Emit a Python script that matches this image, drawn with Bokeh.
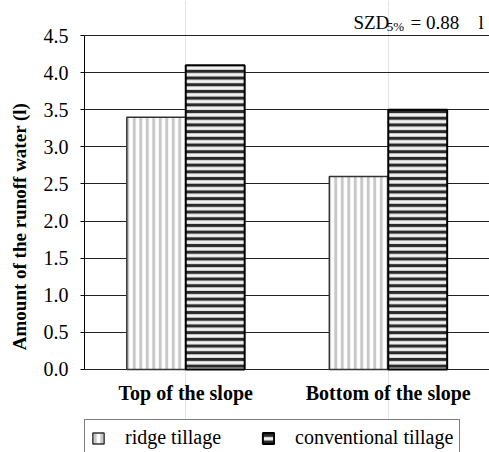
from bokeh.plotting import figure
from bokeh.models import Range1d, Legend, LegendItem, Label, FixedTicker, PrintfTickFormatter
from bokeh.models import ColumnDataSource
from bokeh.transform import dodge
from bokeh.embed import file_html
from bokeh.resources import INLINE

categories = ["Top of the slope", "Bottom of the slope"]
ridge_tillage = [3.4, 2.6]
conventional_tillage = [4.1, 3.5]
y_ticks = [0.0, 0.5, 1.0, 1.5, 2.0, 2.5, 3.0, 3.5, 4.0, 4.5]
series_names = ["ridge tillage", "conventional tillage"]
lsd_text = ["SZD", "5%", "= 0.88", "l"]

FONT = "'Liberation Serif'"

src = ColumnDataSource(dict(cat=categories, ridge=ridge_tillage, conv=conventional_tillage))

p = figure(x_range=categories, y_range=Range1d(-1.119, 4.972), width=489, height=452,
           x_axis_location=None,
           output_backend="svg", toolbar_location=None,
           min_border_left=84, min_border_right=0, min_border_top=0, min_border_bottom=0)
p.outline_line_color = None
p.background_fill_color = "white"

r1 = p.vbar(x=dodge("cat", -0.1455, range=p.x_range), top="ridge", width=0.291, source=src,
            fill_color="white", hatch_pattern="vertical_line", hatch_color="#c8c8c8",
            hatch_scale=6.5, hatch_weight=3, line_color="#333333", line_width=1.5)
r2 = p.vbar(x=dodge("cat", 0.1455, range=p.x_range), top="conv", width=0.291, source=src,
            fill_color="#f2f2f2", hatch_pattern="horizontal_line", hatch_color="#2a2a2a",
            hatch_scale=6.7, hatch_weight=3.2, line_color="black", line_width=2)

# category labels under the bars
p.text(x=categories, y=[-0.323] * len(categories), text=categories,
       text_font={"value": FONT}, text_font_style="bold", text_font_size="20px",
       text_align="center", text_baseline="middle", text_color="black")

p.ygrid.grid_line_color = "#222222"
p.ygrid.grid_line_width = 1
p.ygrid.level = "underlay"
p.ygrid.bounds = (0, 4.5)
p.ygrid.ticker = FixedTicker(ticks=y_ticks)

p.yaxis.ticker = FixedTicker(ticks=y_ticks)
p.yaxis.bounds = (0, 4.5)
p.yaxis.formatter = PrintfTickFormatter(format="%.1f")
p.yaxis.axis_label = "Amount of the runoff water (l)"
p.yaxis.axis_label_text_font = FONT
p.yaxis.axis_label_text_font_style = "bold"
p.yaxis.axis_label_text_font_size = "19px"
p.yaxis.axis_label_text_color = "black"
p.yaxis.axis_label_standoff = 11
p.yaxis.major_label_text_font = FONT
p.yaxis.major_label_text_font_size = "20px"
p.yaxis.major_label_text_color = "black"
p.yaxis.major_tick_out = 4
p.yaxis.major_tick_in = 0
p.yaxis.minor_tick_line_color = None
p.yaxis.major_label_standoff = 12
p.yaxis.axis_line_color = "black"
p.yaxis.major_tick_line_color = "black"

legend = Legend(items=[LegendItem(label=series_names[0], renderers=[r1]),
                       LegendItem(label=series_names[1], renderers=[r2])],
                orientation="horizontal", location=(0, -4),
                border_line_color="black", border_line_width=1,
                label_text_font=FONT, label_text_font_size="20px", label_text_color="black",
                glyph_width=14, glyph_height=14, label_standoff=20,
                spacing=40, padding=6, margin=0)
p.add_layout(legend, "center")

p.add_layout(Label(x=1.328, y=4.677, text=lsd_text[0], text_font=FONT, text_font_size="19px",
                   text_color="black", text_baseline="alphabetic"))
p.add_layout(Label(x=1.492, y=4.623, text=lsd_text[1], text_font=FONT, text_font_size="13px",
                   text_color="black", text_baseline="alphabetic"))
p.add_layout(Label(x=1.61, y=4.677, text=lsd_text[2], text_font=FONT, text_font_size="19px",
                   text_color="black", text_baseline="alphabetic"))
p.add_layout(Label(x=1.946, y=4.677, text=lsd_text[3], text_font=FONT, text_font_size="19px",
                   text_color="black", text_baseline="alphabetic"))

open("out.html", "w").write(file_html(p, INLINE))
